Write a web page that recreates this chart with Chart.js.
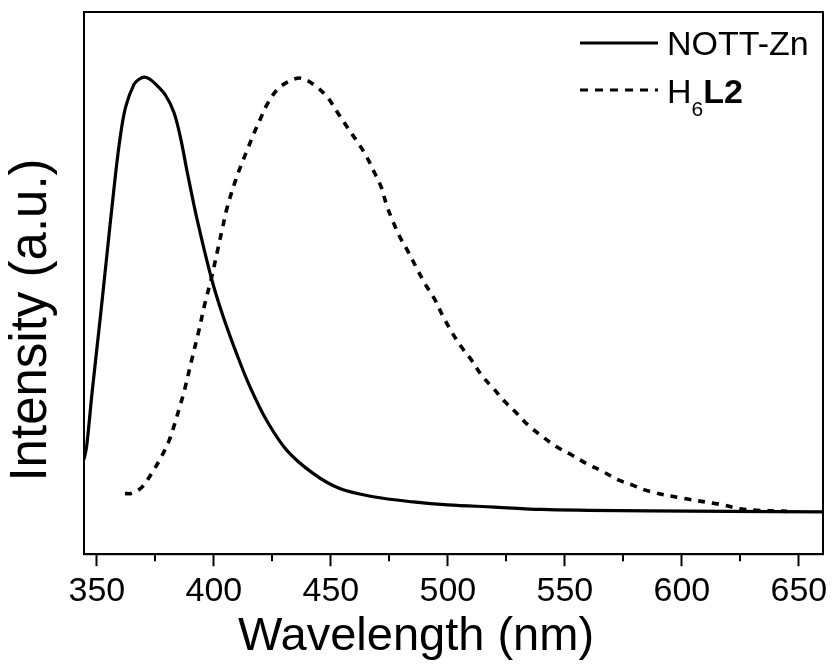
<!DOCTYPE html>
<html>
<head>
<meta charset="utf-8">
<script src="https://cdn.jsdelivr.net/npm/chart.js@4/dist/chart.umd.min.js"></script>
<style>
  html, body { margin: 0; padding: 0; background: #fff; }
  #wrap { width: 836px; height: 664px; position: relative; }
</style>
</head>
<body>
<div id="wrap"><canvas id="spectra"></canvas></div>
<script>
// Emission spectra, values (arbitrary units)
const zincWavelength = [344.5, 345.6, 348, 351.3, 354, 357.7, 360, 362.3, 365.8, 368, 370.5, 373, 375.1, 379.4, 382.9, 385.8, 388.6, 392.9, 399, 404, 409.7, 415.4, 422.5, 431.1, 442.4, 453.8, 468.1, 485.2, 500, 520, 540, 560, 586, 620, 660];
const zincIntensity  = [0.175, 0.198, 0.30, 0.43, 0.54, 0.69, 0.77, 0.825, 0.866, 0.876, 0.88, 0.875, 0.867, 0.846, 0.815, 0.767, 0.705, 0.616, 0.508, 0.438, 0.370, 0.309, 0.247, 0.192, 0.149, 0.121, 0.106, 0.0965, 0.091, 0.087, 0.0825, 0.081, 0.080, 0.079, 0.078];

const ligandWavelength = [362, 364.5, 369.1, 373.4, 377.6, 380.9, 383.3, 385.2, 387.3, 390.5, 393.3, 396.2, 399, 401.3, 403.5, 405.7, 409.3, 411.4, 414.2, 417.1, 420, 422.8, 427.1, 432.1, 437.3, 443.9, 448.8, 453.1, 457.4, 461.7, 465.3, 468.8, 471.7, 473.8, 476.6, 479.5, 483, 486.6, 490.2, 494.4, 498, 501.6, 505.8, 510.1, 514.4, 519.4, 524.4, 529.4, 534.3, 540.7, 546.5, 552.9, 559.3, 566.4, 572.8, 579.2, 586, 600.5, 616.2, 624.8, 632, 645];
const ligandIntensity  = [0.112, 0.112, 0.123, 0.149, 0.180, 0.210, 0.241, 0.269, 0.300, 0.358, 0.407, 0.463, 0.510, 0.555, 0.598, 0.64, 0.69, 0.715, 0.745, 0.776, 0.804, 0.830, 0.857, 0.872, 0.878, 0.862, 0.841, 0.813, 0.785, 0.758, 0.733, 0.702, 0.675, 0.644, 0.613, 0.585, 0.558, 0.528, 0.499, 0.470, 0.438, 0.410, 0.382, 0.358, 0.330, 0.306, 0.281, 0.260, 0.238, 0.216, 0.198, 0.183, 0.167, 0.152, 0.137, 0.127, 0.116, 0.103, 0.092, 0.084, 0.081, 0.079];

const xTicks = [350, 400, 450, 500, 550, 600, 650];
const xMinorTicks = [375, 425, 475, 525, 575, 625];

const FONT = "Arial, 'Liberation Sans', sans-serif";

function toPoints(xs, ys) {
    return xs.map((x, i) => ({ x: x, y: ys[i] }));
}

// Box, minor ticks, axis titles and the legend (needs a subscript, so drawn by hand)
const decorations = {
    id: 'decorations',
    afterDraw(chart) {
        const ctx = chart.ctx;
        const a = chart.chartArea;
        const xs = chart.scales.x;
        ctx.save();
        ctx.strokeStyle = '#000';
        ctx.lineWidth = 2;
        ctx.strokeRect(a.left, a.top, a.right - a.left, a.bottom - a.top);

        // minor ticks
        ctx.beginPath();
        xMinorTicks.forEach(v => {
            const px = Math.round(xs.getPixelForValue(v));
            ctx.moveTo(px, a.bottom);
            ctx.lineTo(px, a.bottom + 7);
        });
        ctx.stroke();

        ctx.fillStyle = '#000';
        // x title
        ctx.font = '47px ' + FONT;
        ctx.textAlign = 'center';
        ctx.textBaseline = 'alphabetic';
        ctx.fillText('Wavelength (nm)', 416, 650);

        // y title
        ctx.save();
        ctx.translate(46, 320);
        ctx.rotate(-Math.PI / 2);
        ctx.font = '51px ' + FONT;
        ctx.fillText('Intensity (a.u.)', 0, 0);
        ctx.restore();

        // legend
        ctx.lineWidth = 3;
        ctx.beginPath();
        ctx.moveTo(580, 43);
        ctx.lineTo(658, 43);
        ctx.stroke();
        ctx.setLineDash([8, 7]);
        ctx.beginPath();
        ctx.moveTo(580, 90);
        ctx.lineTo(658, 90);
        ctx.stroke();
        ctx.setLineDash([]);

        ctx.textAlign = 'left';
        ctx.font = '34px ' + FONT;
        ctx.fillText('NOTT-Zn', 667, 55);
        ctx.fillText('H', 667, 103);
        let x = 667 + ctx.measureText('H').width;
        ctx.font = '21px ' + FONT;
        ctx.fillText('6', x, 116);
        x += ctx.measureText('6').width;
        ctx.font = 'bold 34px ' + FONT;
        ctx.fillText('L2', x, 103);
        ctx.restore();
    }
};

document.addEventListener('DOMContentLoaded', function() {
    const ctx = document.getElementById('spectra').getContext('2d');
    new Chart(ctx, {
        type: 'line',
        data: {
            datasets: [
                {
                    label: 'NOTT-Zn',
                    data: toPoints(zincWavelength, zincIntensity),
                    borderColor: '#000',
                    borderWidth: 3.2,
                    pointRadius: 0,
                    tension: 0.35,
                    fill: false
                },
                {
                    label: 'H6L2',
                    data: toPoints(ligandWavelength, ligandIntensity),
                    borderColor: '#000',
                    borderWidth: 3.6,
                    borderDash: [7, 7],
                    pointRadius: 0,
                    tension: 0.35,
                    fill: false
                }
            ]
        },
        plugins: [decorations],
        options: {
            responsive: true,
            maintainAspectRatio: false,
            animation: false,
            layout: { padding: { left: 84, top: 12, right: 13, bottom: 47 } },
            plugins: {
                legend: { display: false },
                tooltip: { enabled: false }
            },
            scales: {
                x: {
                    type: 'linear',
                    min: 344.5,
                    max: 660.3,
                    afterBuildTicks: scale => {
                        scale.ticks = xTicks.map(v => ({ value: v }));
                    },
                    ticks: {
                        color: '#000',
                        font: { family: FONT, size: 34 },
                        padding: 5,
                        maxRotation: 0,
                        autoSkip: false
                    },
                    grid: {
                        drawOnChartArea: false,
                        drawTicks: true,
                        tickLength: 12,
                        tickWidth: 2,
                        tickColor: '#000'
                    },
                    border: { display: true, color: '#000', width: 2 }
                },
                y: {
                    display: false,
                    min: 0,
                    max: 1
                }
            }
        }
    });
});
</script>
</body>
</html>
